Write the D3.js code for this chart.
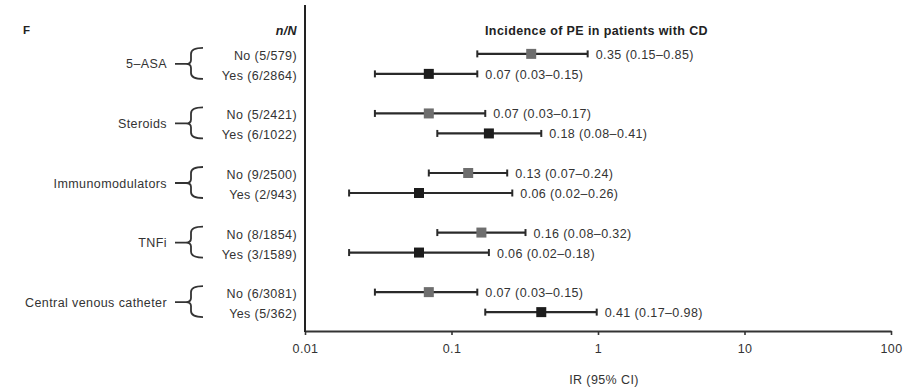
<!DOCTYPE html>
<html><head><meta charset="utf-8">
<script src="https://cdn.jsdelivr.net/npm/d3@7"></script>
<style>body{margin:0;background:#fff} text{font-family:Arial,"Liberation Sans",Helvetica,sans-serif}</style>
</head><body><svg id="c" width="917" height="391"></svg>
<script>
// ---- data ----
const groups = ["5–ASA", "Steroids", "Immunomodulators", "TNFi", "Central venous catheter"];
const rowGroups = [0, 0, 1, 1, 2, 2, 3, 3, 4, 4];
const rowStatus = ["No", "Yes", "No", "Yes", "No", "Yes", "No", "Yes", "No", "Yes"];
const rowLabels = ["No (5/579)", "Yes (6/2864)", "No (5/2421)", "Yes (6/1022)", "No (9/2500)", "Yes (2/943)", "No (8/1854)", "Yes (3/1589)", "No (6/3081)", "Yes (5/362)"];
const estimates = [0.35, 0.07, 0.07, 0.18, 0.13, 0.06, 0.16, 0.06, 0.07, 0.41];
const lower = [0.15, 0.03, 0.03, 0.08, 0.07, 0.02, 0.08, 0.02, 0.03, 0.17];
const upper = [0.85, 0.15, 0.17, 0.41, 0.24, 0.26, 0.32, 0.18, 0.15, 0.98];
const valueLabels = ["0.35 (0.15–0.85)", "0.07 (0.03–0.15)", "0.07 (0.03–0.17)", "0.18 (0.08–0.41)", "0.13 (0.07–0.24)", "0.06 (0.02–0.26)", "0.16 (0.08–0.32)", "0.06 (0.02–0.18)", "0.07 (0.03–0.15)", "0.41 (0.17–0.98)"];
const tickValues = [0.01, 0.1, 1, 10, 100];
const tickLabels = ["0.01", "0.1", "1", "10", "100"];
const title = "Incidence of PE in patients with CD";
const xTitle = "IR (95% CI)";

// ---- layout ----
const svg = d3.select("#c");
const FS = 12.5, LS = 0.4;
const x = d3.scaleLog().domain([0.01, 100]).range([305, 891]);
const yGroup = d3.scaleBand().domain(groups).range([34.1, 331.9]).padding(0);
const rowOff = {No: -10, Yes: 10};
const rows = rowLabels.map((l, i) => ({
  label: l, group: groups[rowGroups[i]], status: rowStatus[i],
  est: estimates[i], lo: lower[i], hi: upper[i], vl: valueLabels[i]
}));
const yRow = d => yGroup(d.group) + yGroup.bandwidth() / 2 + rowOff[d.status];
const axisY = 331;

// axes
const xAxis = d3.axisBottom(x).tickValues(tickValues)
  .tickFormat((d, i) => tickLabels[i]).tickSize(4).tickSizeOuter(0).tickPadding(9);
const gx = svg.append("g").attr("transform", `translate(0,${axisY})`).call(xAxis);
gx.select(".domain").attr("stroke", "#333").attr("stroke-width", 2);
gx.selectAll(".tick line").attr("stroke", "#333").attr("stroke-width", 1.6);
gx.selectAll(".tick text").attr("fill", "#333").style("font-size", FS + "px")
  .style("letter-spacing", LS + "px").style("font-family", "Arial,'Liberation Sans',sans-serif");
svg.append("line").attr("x1", x(0.01)).attr("x2", x(0.01)).attr("y1", 5).attr("y2", axisY + 1)
  .attr("stroke", "#222").attr("stroke-width", 2);

// headers
svg.append("text").attr("x", 23).attr("y", 34).text("F")
  .attr("font-weight", "bold").attr("font-size", 11.5).attr("fill", "#222");
svg.append("text").attr("x", 297).attr("y", 35).attr("text-anchor", "end")
  .attr("font-weight", "bold").attr("font-style", "italic").attr("font-size", FS).attr("fill", "#222")
  .style("letter-spacing", LS + "px").text("n/N");
svg.append("text").attr("x", 485).attr("y", 35).attr("font-weight", "bold").attr("font-size", FS)
  .style("letter-spacing", LS + "px").attr("fill", "#222").text(title);
svg.append("text").attr("x", x(1) + 6).attr("y", 384).attr("text-anchor", "middle")
  .attr("font-size", FS).style("letter-spacing", LS + "px").attr("fill", "#333").text(xTitle);

// group labels + braces
const gg = svg.append("g").selectAll("g").data(groups).join("g");
gg.append("text").attr("x", 167).attr("y", g => yGroup(g) + yGroup.bandwidth() / 2 + 4.5)
  .attr("text-anchor", "end").attr("font-size", FS).style("letter-spacing", LS + "px")
  .attr("fill", "#333").text(g => g);
gg.append("path").attr("fill", "none").attr("stroke", "#333").attr("stroke-width", 1.8)
  .attr("d", g => {
    const ym = yGroup(g) + yGroup.bandwidth() / 2;
    const yt = ym + rowOff.No - 6, yb = ym + rowOff.Yes + 5;
    const xe = 203, xv = 191, xt = 175;
    return `M${xe},${yt} Q${xv},${yt} ${xv},${yt + 6} L${xv},${ym - 4} Q${xv},${ym} ${xv - 5},${ym} L${xt},${ym}` +
      ` M${xv - 5},${ym} Q${xv},${ym} ${xv},${ym + 4} L${xv},${yb - 6} Q${xv},${yb} ${xe},${yb}`;
  });

// rows
const rg = svg.append("g").selectAll("g").data(rows).join("g");
rg.append("text").attr("x", 297).attr("y", d => yRow(d) + 6).attr("text-anchor", "end")
  .attr("font-size", FS).style("letter-spacing", LS + "px").attr("fill", "#333").text(d => d.label);
rg.append("line").attr("x1", d => x(d.lo)).attr("x2", d => x(d.hi))
  .attr("y1", yRow).attr("y2", yRow).attr("stroke", "#2a2a2a").attr("stroke-width", 2.2);
["lo", "hi"].forEach(k => {
  rg.append("line").attr("x1", d => x(d[k])).attr("x2", d => x(d[k]))
    .attr("y1", d => yRow(d) - 3.5).attr("y2", d => yRow(d) + 3.5)
    .attr("stroke", "#2a2a2a").attr("stroke-width", 2);
});
rg.append("rect").attr("x", d => x(d.est) - 5).attr("y", d => yRow(d) - 5)
  .attr("width", 10).attr("height", 10)
  .attr("fill", d => d.status === "No" ? "#6e6e6e" : "#1c1c1c");
rg.append("text").attr("x", d => x(d.hi) + 8).attr("y", d => yRow(d) + 5)
  .attr("font-size", FS).style("letter-spacing", LS + "px").attr("fill", "#333").text(d => d.vl);
</script></body></html>
